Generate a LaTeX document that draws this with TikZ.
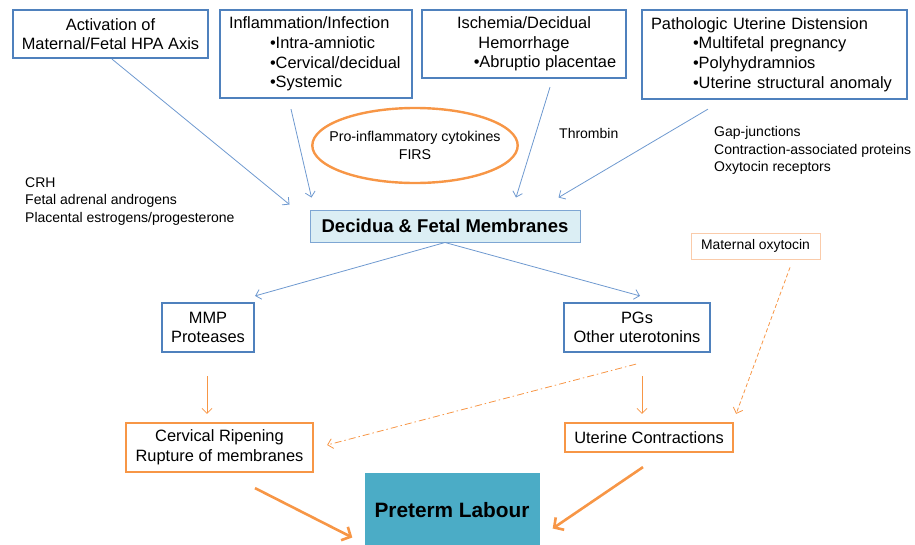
\documentclass[tikz,border=0pt]{standalone}
\usepackage{fontspec}
\setmainfont{Liberation Sans}
\usetikzlibrary{arrows.meta,shapes.geometric}
\definecolor{boxblue}{RGB}{79,129,189}
\definecolor{arrblue}{RGB}{110,153,208}
\definecolor{boxorange}{RGB}{247,150,70}
\definecolor{paleorange}{RGB}{250,203,170}
\definecolor{decfill}{RGB}{219,238,244}
\definecolor{decline}{RGB}{126,166,211}
\definecolor{ptlfill}{RGB}{75,172,198}

\begin{document}
\begin{tikzpicture}[x=1pt, y=-1pt, auto,
    blue node/.style={draw=boxblue, line width=2.2pt, fill=white, inner sep=0pt, font=\fontsize{16.4}{19.6}\selectfont},
    orange node/.style={draw=boxorange, line width=2.2pt, fill=white, inner sep=0pt, align=center, font=\fontsize{16.4}{20}\selectfont},
    note/.style={inner sep=0pt, anchor=west, align=left, font=\fontsize{14}{17.5}\selectfont},
    blue arrow/.style={draw=arrblue, line width=0.8pt, -{Straight Barb[length=5pt,width=10pt]}},
    orange arrow/.style={draw=boxorange, line width=0.8pt, -{Straight Barb[length=5pt,width=10pt]}},
    big arrow/.style={draw=boxorange, line width=2.6pt, -{Straight Barb[length=7pt,width=15pt]}}]
    \useasboundingbox (0,0) rectangle (915,544);
    % causes
    \node[blue node, align=center, minimum width=195pt, minimum height=48pt] (1) at (110.5,34) {Activation of\\Maternal/Fetal HPA Axis};
    \node[blue node, align=left, text width=174pt, inner xsep=9pt, minimum height=88pt] (2) at (316,54) {Inflammation/Infection\\\hspace*{41pt}•Intra-amniotic\\\hspace*{41pt}•Cervical/decidual\\\hspace*{41pt}•Systemic};
    \node[blue node, align=center, minimum width=204pt, minimum height=68pt] (3) at (524,44) {Ischemia/Decidual\\Hemorrhage\\\hspace*{42pt}•Abruptio placentae};
    \node[blue node, align=left, text width=247pt, inner xsep=9pt, minimum height=89pt] (4) at (774.5,54.5) {Pathologic Uterine Distension\\\hspace*{42pt}•Multifetal pregnancy\\\hspace*{42pt}•Polyhydramnios\\\hspace*{42pt}•Uterine structural anomaly};
    \node[draw=decline, line width=1pt, fill=decfill, minimum width=270pt, minimum height=32pt, inner sep=0pt, font=\fontsize{18.5}{21}\selectfont\bfseries] (5) at (445,226) {Decidua \& Fetal Membranes};
    \node[draw=paleorange, line width=0.8pt, minimum width=129pt, minimum height=26pt, inner sep=0pt, font=\fontsize{13.9}{16}\selectfont] (6) at (755.5,246) {Maternal oxytocin};
    \node[blue node, align=center, minimum width=92pt, minimum height=49pt] (7) at (208,327.5) {MMP\\Proteases};
    \node[blue node, align=center, minimum width=146pt, minimum height=49pt] (8) at (637,327.5) {PGs\\Other uterotonins};
    \node[orange node, minimum width=187pt, minimum height=49pt] (9) at (219.5,447.5) {Cervical Ripening\\Rupture of membranes};
    \node[orange node, minimum width=168pt, minimum height=29pt] (10) at (649,437.5) {Uterine Contractions};
    \node[fill=ptlfill, minimum width=175pt, minimum height=75pt, font=\fontsize{20.8}{24}\selectfont\bfseries] (11) at (452,510.5) {Preterm Labour};
    % mediators
    \node[ellipse, draw=boxorange, line width=2.4pt, minimum width=204pt, minimum height=75pt, inner xsep=-13pt, inner ysep=0pt, align=center, font=\fontsize{14.2}{17.5}\selectfont] (12) at (415,145.5) {Pro-inflammatory cytokines\\FIRS};
    \node[note] (13) at (25,201.5) {CRH\\Fetal adrenal androgens\\Placental estrogens/progesterone};
    \node[note] (14) at (559,133) {Thrombin};
    \node[note] (15) at (714,150.5) {Gap-junctions\\Contraction-associated proteins\\Oxytocin receptors};
    \path
    ([xshift=1.5pt]1.south) edge[blue arrow] ([xshift=-20pt,yshift=5pt]5.north west)
    ([xshift=-25pt,yshift=-10pt]2.south) edge[blue arrow] ([xshift=2pt,yshift=12pt]5.north west)
    ([xshift=26pt,yshift=-8pt]3.south) edge[blue arrow] ([xshift=71pt,yshift=12pt]5.north)
    ([xshift=-66.5pt,yshift=-9pt]4.south) edge[blue arrow] ([xshift=-22pt,yshift=12pt]5.north east)
    (5.south) edge[blue arrow] ([yshift=6pt]7.north east)
    (5.south) edge[blue arrow] ([xshift=3pt,yshift=6pt]8.north);
    \path
    ([xshift=-1pt,yshift=-23pt]7.south) edge[orange arrow] ([xshift=-12.5pt,yshift=8pt]9.north)
    ([xshift=5pt,yshift=-23pt]8.south) edge[orange arrow] ([xshift=-7pt,yshift=8pt]10.north)
    ([xshift=-1pt,yshift=-11pt]8.south) edge[orange arrow, dash pattern=on 7pt off 3pt on 1.5pt off 3pt] ([xshift=13pt,yshift=2.5pt]9.east)
    ([xshift=34.5pt,yshift=-8pt]6.south) edge[orange arrow, dash pattern=on 4pt off 2.5pt] ([xshift=2pt,yshift=8pt]10.north east)
    ([xshift=35.5pt,yshift=-15pt]9.south) edge[big arrow] ([xshift=-12pt,yshift=-27pt]11.west)
    ([xshift=-6pt,yshift=-14pt]10.south) edge[big arrow] ([xshift=13pt,yshift=-18pt]11.east);
\end{tikzpicture}
\end{document}
